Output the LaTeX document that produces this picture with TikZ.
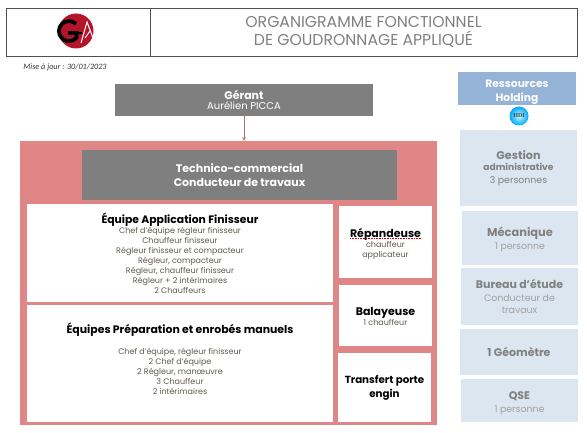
\documentclass[tikz,border=0pt]{standalone}
\usepackage{fontspec}
\setmainfont{Poppins}
\newfontfamily\carlitofont{Carlito}
\newfontfamily\seriffont{Liberation Serif}
\definecolor{rosezone}{HTML}{E08686}
\definecolor{grisbox}{HTML}{7F7F7F}
\definecolor{bleuhead}{HTML}{95B3D7}
\definecolor{bleubox}{HTML}{DCE6F1}
\definecolor{textgris}{HTML}{A0A0A0}
\definecolor{textolive}{HTML}{5E5A4C}
\definecolor{textfonce}{HTML}{808080}
\definecolor{cadre}{HTML}{505050}
\definecolor{rougelogo}{HTML}{B5152B}
\begin{document}
\begin{tikzpicture}[
      x=1pt, y=-1pt,
      >=stealth,
      headbox/.style={
          rectangle, draw=cadre, line width=0.9pt,
          align=center, inner sep=0pt
      },
      greybox/.style={
          rectangle, fill=grisbox, text=white,
          align=center, inner sep=0pt
      },
      whitebox/.style={
          rectangle, fill=white, text=textolive,
          align=center, inner sep=0pt,
          font=\fontsize{8}{10}\selectfont
      },
      sidebox/.style={
          rectangle, fill=bleubox, text=textgris,
          align=center, inner sep=0pt,
          font=\fontsize{9.4}{12.5}\selectfont
      }
  ]
    \useasboundingbox (0,0) rectangle (587,433);

    % Header
    \node[headbox, minimum width=144pt, minimum height=48pt] (logobox) at (78,32) {};
    \node[headbox, minimum width=427pt, minimum height=48pt, text=textfonce,
        font=\fontsize{15.7}{18}\selectfont] (titre) at (363.5,32)
        {ORGANIGRAMME FONCTIONNEL\\DE GOUDRONNAGE APPLIQU\'E};

    % Logo
    \node[circle, fill=rougelogo, minimum size=35pt, inner sep=0pt] (logo) at (76,31) {};
    \draw[white, line width=1pt] (81,43) -- (87,22) -- (93,38);
    \draw[white, line width=0.9pt] (85,38) -- (90,31);
    \draw[black, line width=3.8pt] (76,24) arc[start angle=45, end angle=320, radius=10pt] -- (76.7,33) -- (68,33);
    \draw[black, line width=2.4pt] (76,33) -- (82,33);

    \node[font=\carlitofont\itshape\fontsize{8.2}{10}\selectfont, text=black!80] (maj) at (65,67) {Mise \`a jour : 30/01/2023};

    % Management
    \node[greybox, minimum width=258pt, minimum height=32pt] (gerant) at (244,100)
        {{\bfseries\fontsize{11}{13}\selectfont G\'erant}\\[-2pt]{\fontsize{10}{12}\selectfont Aur\'elien PICCA}};
    \node[rectangle, fill=rosezone, minimum width=417pt, minimum height=284pt, inner sep=0pt] (zone) at (228.5,283) {};
    \draw[->, rosezone!80!black, line width=0.6pt] (gerant) -- (gerant |- zone.north);

    \node[greybox, minimum width=315pt, minimum height=50pt,
        font=\bfseries\fontsize{11}{14.5}\selectfont] (technico) at (239.5,175)
        {Technico-commercial\\Conducteur de travaux};

    % Teams
    \node[whitebox, minimum width=306pt, minimum height=98pt] (finisseur) at (180,253)
        {{\bfseries\fontsize{10.8}{12}\selectfont\color{black}\'Equipe Application Finisseur}\\
         Chef d'\'equipe r\'egleur finisseur\\Chauffeur finisseur\\R\'egleur finisseur et compacteur\\
         R\'egleur, compacteur\\R\'egleur, chauffeur finisseur\\R\'egleur + 2 int\'erimaires\\2 Chauffeurs};
    \node[whitebox, minimum width=306pt, minimum height=117pt] (enrobes) at (180,363.5)
        {{\bfseries\fontsize{10.9}{12}\selectfont\color{black}\'Equipes Pr\'eparation et enrob\'es manuels}\\[11pt]
         Chef d'\'equipe, r\'egleur finisseur\\2 Chef d'\'equipe\\2 R\'egleur, man\oe uvre\\3 Chauffeur\\2 int\'erimaires\\ ~};

    \node[whitebox, minimum width=93pt, minimum height=72pt] (repandeuse) at (385.5,242)
        {\rule{0pt}{14pt}{\bfseries\fontsize{11}{12}\selectfont\color{black}R\'epandeuse}\\chauffeur\\applicateur};
    \draw[red!80!black, densely dotted, line width=0.6pt] (350,238.5) -- (421,238.5);
    \node[whitebox, minimum width=93pt, minimum height=61pt] (balayeuse) at (385.5,315.5)
        {\rule{0pt}{11pt}{\bfseries\fontsize{11}{12}\selectfont\color{black}Balayeuse}\\1 chauffeur};
    \node[whitebox, minimum width=93pt, minimum height=69pt,
        font=\bfseries\fontsize{10.3}{14}\selectfont, text=black] (transfert) at (384.5,387.5)
        {Transfert porte\\engin};

    % Holding resources
    \node[rectangle, fill=bleuhead, text=white, minimum width=118pt, minimum height=33pt, inner sep=0pt,
        align=center, font=\bfseries\fontsize{10.7}{14}\selectfont] (holding) at (517,88.5)
        {\rule{0pt}{14pt}Ressources\\Holding};
    \node[circle, minimum size=19pt, inner sep=0pt, shading=radial, inner color=cyan!25, outer color=cyan!65!blue,
        font=\seriffont\bfseries\fontsize{6}{6}\selectfont, text=black!75] (hdi) at (519,116) {HDI};

    \node[sidebox, minimum width=117pt, minimum height=76pt] (gestion) at (518.5,168)
        {{\bfseries\fontsize{11.2}{13}\selectfont\color{textfonce}Gestion}\\[-1pt]
         {\bfseries\fontsize{9.1}{12}\selectfont\color{textfonce}administrative}\\{\color{textfonce}3 personnes}};
    \node[sidebox, minimum width=116pt, minimum height=54pt] (mecanique) at (520,238)
        {\rule{0pt}{12pt}{\bfseries\fontsize{11.4}{13}\selectfont\color{textfonce}M\'ecanique}\\1 personne};
    \node[sidebox, minimum width=117pt, minimum height=57pt] (bureau) at (519.5,296.5)
        {{\bfseries\fontsize{11}{13}\selectfont\color{textfonce}Bureau d'\'etude}\\Conducteur de\\travaux};
    \node[sidebox, minimum width=118pt, minimum height=46pt,
        font=\bfseries\fontsize{11}{13}\selectfont, text=textfonce] (geometre) at (519,352) {1 G\'eom\`etre};
    \node[sidebox, minimum width=117pt, minimum height=43pt] (qse) at (519.5,400.5)
        {\rule{0pt}{13pt}{\bfseries\fontsize{11}{13}\selectfont\color{textfonce}QSE}\\1 personne};
  \end{tikzpicture}
\end{document}
